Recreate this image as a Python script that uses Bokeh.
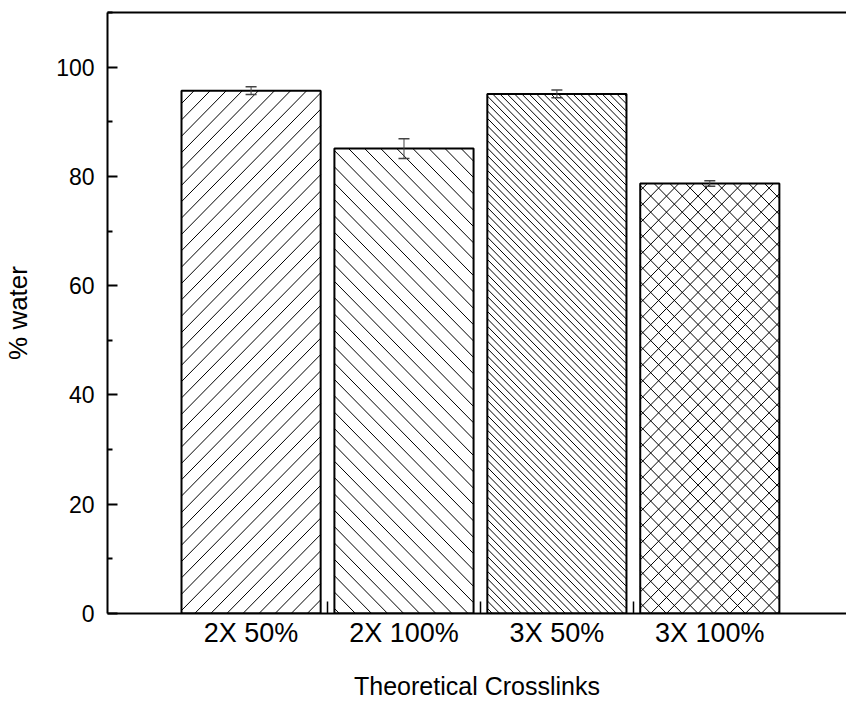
import math
from bokeh.plotting import figure
from bokeh.models import (ColumnDataSource, Whisker, TeeHead, LinearAxis, FixedTicker,
                          Range1d)
from bokeh.embed import file_html
from bokeh.resources import INLINE

# ---- data ----
categories = ["2X 50%", "2X 100%", "3X 50%", "3X 100%"]
water = [95.7, 85.1, 95.1, 78.7]
water_err = [0.7, 1.8, 0.7, 0.5]

# ---- styles ----
hatch_dirs = [["/"], ["\\"], ["\\"], ["/", "\\"]]
hatch_px = [16.3, 16.3, 7.4, 16.0]   # horizontal spacing of hatch lines, px

FONT = "Liberation Sans"
BAR_W = 0.91
X0, X1 = 0.061, 4.894
Y0, Y1 = 0, 110
W, H = 846, 702
BL, BT = 97, 12
xs = list(range(1, len(categories) + 1))

p = figure(width=W, height=H, output_backend="svg", toolbar_location=None,
           x_range=Range1d(X0, X1), y_range=Range1d(Y0, Y1),
           min_border_left=BL, min_border_right=0, min_border_top=BT,
           min_border_bottom=0)
p.outline_line_color = None
p.xgrid.visible = False
p.ygrid.visible = False
p.background_fill_color = "white"

# pixel scales (approximate frame size) to draw 45-degree hatching
kx = (W - BL) / (X1 - X0)
ky = 599.0 / (Y1 - Y0)


def hatch(xc, top, spacing, direction):
    L, R = (xc - BAR_W / 2) * kx, (xc + BAR_W / 2) * kx
    B, T = 0.0, top * ky
    out = []
    if direction == "/":
        cmin, cmax = B - R, T - L
        c = math.floor(cmin / spacing) * spacing
        while c <= cmax:
            a, b = max(L, B - c), min(R, T - c)
            if b > a:
                out.append((a, a + c, b, b + c))
            c += spacing
    else:
        cmin, cmax = L + B, R + T
        c = math.floor(cmin / spacing) * spacing
        while c <= cmax:
            a, b = max(L, c - T), min(R, c - B)
            if b > a:
                out.append((a, c - a, b, c - b))
            c += spacing
    return [(x0 / kx, y0 / ky, x1 / kx, y1 / ky) for x0, y0, x1, y1 in out]


bars = ColumnDataSource(dict(x=xs, top=water))
p.vbar(x="x", top="top", bottom=0, width=BAR_W, source=bars,
       fill_color="white", line_color=None)

segs = []
for i, (x, v) in enumerate(zip(xs, water)):
    for d in hatch_dirs[i]:
        segs += hatch(x, v, hatch_px[i], d)
hs = ColumnDataSource(dict(x0=[s[0] for s in segs], y0=[s[1] for s in segs],
                           x1=[s[2] for s in segs], y1=[s[3] for s in segs]))
p.segment(x0="x0", y0="y0", x1="x1", y1="y1", source=hs,
          line_color="black", line_width=1)

p.vbar(x="x", top="top", bottom=0, width=BAR_W, source=bars,
       fill_color=None, line_color="black", line_width=2)

src = ColumnDataSource(dict(x=xs,
                            upper=[v + e for v, e in zip(water, water_err)],
                            lower=[v - e for v, e in zip(water, water_err)]))
wh = Whisker(base="x", upper="upper", lower="lower", source=src,
             line_color="#444444", line_width=1, level="overlay",
             upper_head=TeeHead(size=11, line_color="#444444", line_width=1.5),
             lower_head=TeeHead(size=11, line_color="#444444", line_width=1.5))
p.add_layout(wh)

# y axis
ya = p.yaxis[0]
ya.ticker = FixedTicker(ticks=[0, 20, 40, 60, 80, 100],
                        minor_ticks=[10, 30, 50, 70, 90, 110])
ya.axis_label = "% water"
ya.axis_label_text_font = FONT
ya.axis_label_text_font_size = "26px"
ya.axis_label_text_font_style = "normal"
ya.axis_label_text_color = "black"
ya.axis_label_standoff = 20
ya.major_label_text_font = FONT
ya.major_label_text_font_size = "23px"
ya.major_label_text_color = "black"
ya.major_label_standoff = 13
ya.major_tick_in = 10
ya.major_tick_out = 0
ya.minor_tick_in = 5
ya.minor_tick_out = 0
ya.axis_line_width = 2
ya.major_tick_line_width = 2
ya.minor_tick_line_width = 2

# x axis
xa = p.xaxis[0]
xa.ticker = FixedTicker(ticks=xs, minor_ticks=[1.5, 2.5, 3.5])
xa.major_label_overrides = {x: c for x, c in zip(xs, categories)}
xa.axis_label = "Theoretical Crosslinks"
xa.axis_label_text_font = FONT
xa.axis_label_text_font_size = "25px"
xa.axis_label_text_font_style = "normal"
xa.axis_label_text_color = "black"
xa.axis_label_standoff = 21
xa.major_label_text_font = FONT
xa.major_label_text_font_size = "27px"
xa.major_label_text_color = "black"
xa.major_label_standoff = 4
xa.major_tick_in = 0
xa.major_tick_out = 0
xa.minor_tick_in = 12
xa.minor_tick_out = 0
xa.minor_tick_line_width = 1.5
xa.axis_line_width = 2

# top line
top = LinearAxis(ticker=FixedTicker(ticks=[]), major_label_text_font_size="0px",
                 major_tick_out=0, minor_tick_out=0, axis_line_width=2,
                 major_label_standoff=0)
p.add_layout(top, "above")

open("out.html", "w").write(file_html(p, INLINE))
